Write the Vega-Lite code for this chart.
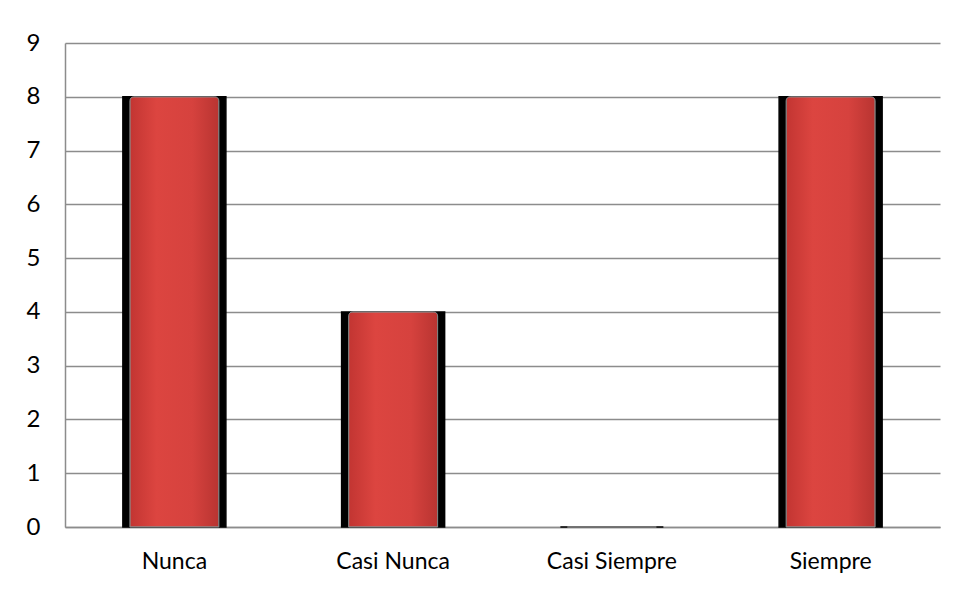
{
  "$schema": "https://vega.github.io/schema/vega-lite/v6.json",
  "autosize": "none",
  "width": 875,
  "height": 484,
  "padding": {"left": 65, "top": 43, "right": 17, "bottom": 62},
  "background": "white",
  "config": {"view": {"stroke": null}, "font": "Lato"},
  "data": {"values": [
    {"categoria": "Nunca", "valor": 8},
    {"categoria": "Casi Nunca", "valor": 4},
    {"categoria": "Casi Siempre", "valor": 0},
    {"categoria": "Siempre", "valor": 8}
  ]},
  "encoding": {
    "x": {"field": "categoria", "type": "nominal", "sort": null, "scale": {"paddingInner": 0.54, "paddingOuter": 0.27},
      "axis": {"title": null, "labelAngle": 0, "labelFontSize": 23, "labelColor": "#000", "labelPadding": 23, "ticks": false, "domainColor": "#8c8c8c", "domainWidth": 1.5, "labelFont": "Lato"}},
    "y": {"field": "valor", "type": "quantitative", "scale": {"domain": [0, 9], "nice": false},
      "axis": {"title": null, "values": [0,1,2,3,4,5,6,7,8,9], "labelOverlap": false, "labelFontSize": 24, "labelColor": "#000", "labelPadding": 25, "ticks": false, "domainColor": "#8c8c8c", "domainWidth": 1.5, "grid": true, "gridColor": "#8c8c8c", "gridWidth": 1.5, "labelFont": "Lato"}}
  },
  "layer": [
    {"mark": {"type": "bar", "color": "#000000", "size": 103, "stroke": "#000", "strokeWidth": 1.5}},
    {"mark": {"type": "bar", "size": 89, "cornerRadiusTopLeft": 4, "cornerRadiusTopRight": 4,
      "color": {"gradient": "linear", "x1": 0, "x2": 1, "y1": 0, "y2": 0, "stops": [
        {"offset": 0, "color": "#c23532"}, {"offset": 0.3, "color": "#dc4540"}, {"offset": 0.7, "color": "#d6423e"}, {"offset": 1, "color": "#b83431"}]},
      "stroke": "#8a8a8a", "strokeWidth": 1}}
  ]
}
